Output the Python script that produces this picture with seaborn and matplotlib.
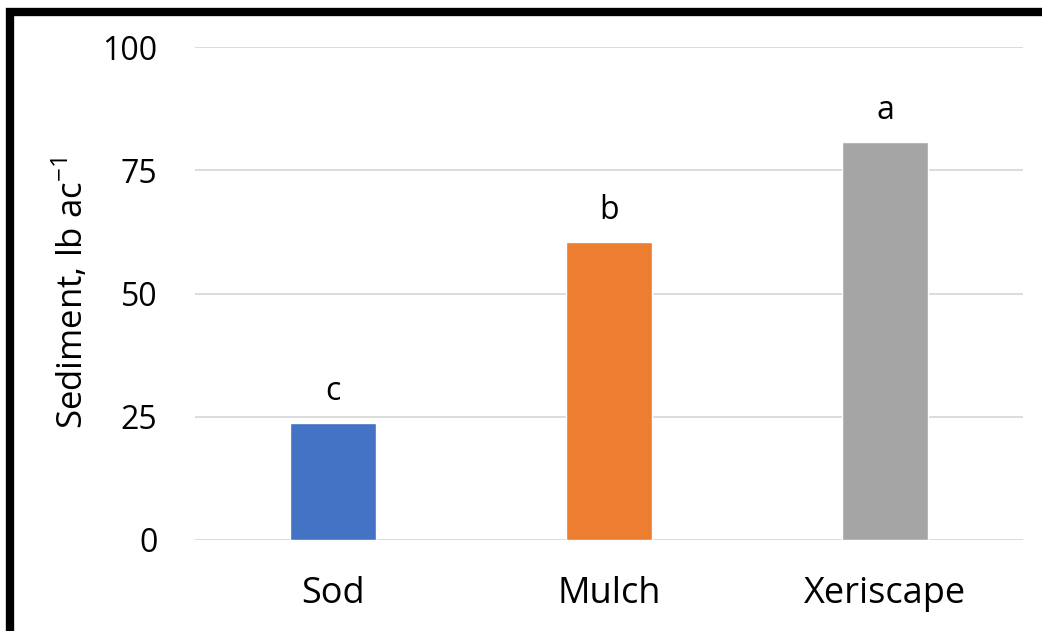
import seaborn as sns
import matplotlib.pyplot as plt
import pandas as pd

treatments = ["Sod", "Mulch", "Xeriscape"]
sediment = [23.7, 60.5, 80.8]
letters = ["c", "b", "a"]
bar_colors = ["#4472C4", "#ED7D31", "#A5A5A5"]

df = pd.DataFrame({"treatment": treatments, "sediment": sediment})

sns.set_style("white")
plt.rcParams["font.family"] = ["Open Sans", "DejaVu Sans"]
plt.rcParams["text.color"] = "black"

fig = plt.figure(figsize=(10.42, 6.31), dpi=100)
ax = fig.add_axes([195 / 1042, 1 - 540 / 631, 828 / 1042, 493 / 631])

sns.barplot(x="treatment", y="sediment", data=df, hue="treatment",
            palette=bar_colors, width=0.315, saturation=1, legend=False,
            ax=ax, zorder=3)

# significance letters above bars
for i, (v, lab) in enumerate(zip(sediment, letters)):
    ax.text(i, v + 3.0, lab, ha="center", va="bottom", fontsize=23,
            color="black")

ax.set_ylim(0, 100)
ax.set_yticks([0, 25, 50, 75, 100])
ax.yaxis.grid(True, color="#D9D9D9", linewidth=1.3, zorder=0)
ax.tick_params(axis="y", labelsize=23, length=0, pad=27, labelcolor="black")
ax.tick_params(axis="x", labelsize=26, length=0, pad=26, labelcolor="black")
ax.set_xlabel("")
ax.set_ylabel("Sediment, lb ac$^{\\mathregular{-1}}$", fontsize=25,
              labelpad=8, color="black")
for s in ax.spines.values():
    s.set_visible(False)

# outer frame (left and top visible)
fig.patches.append(plt.Rectangle((10 / 1042, -0.1), 1.2, 1 - 12 / 631 + 0.1,
                                 transform=fig.transFigure, fill=False,
                                 edgecolor="black", linewidth=6))

fig.savefig("out.png", dpi=100)
